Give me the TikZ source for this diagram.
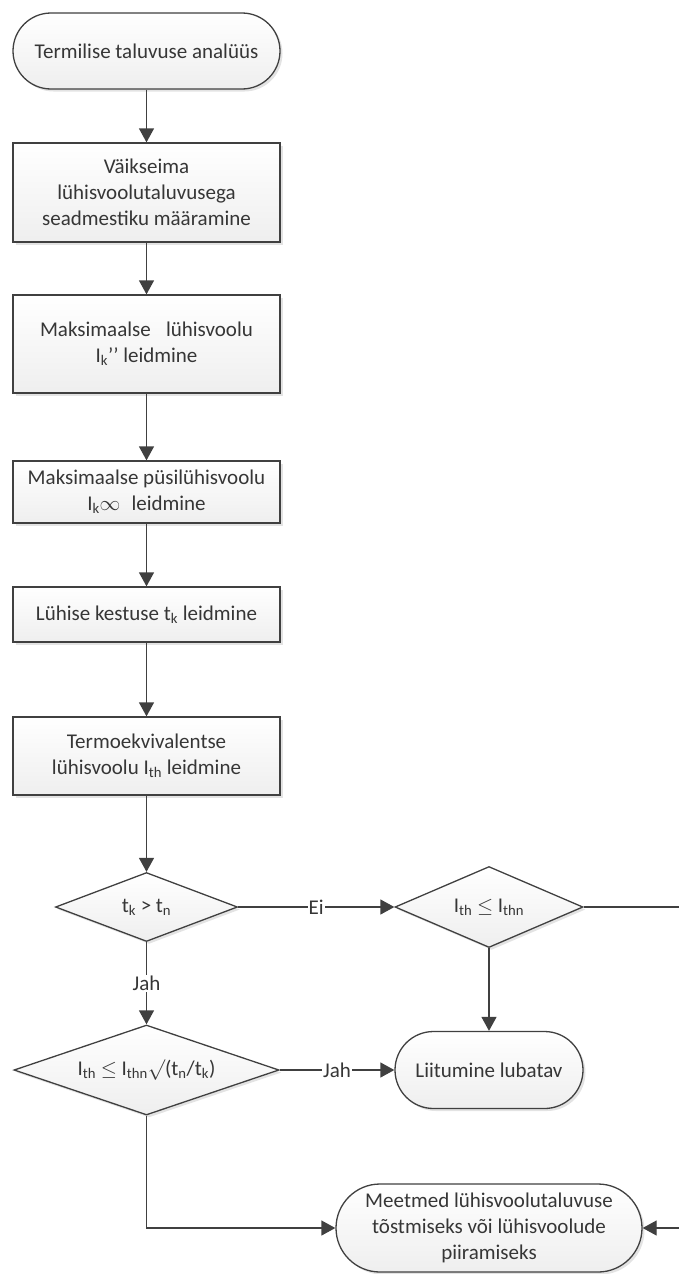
\documentclass[tikz,border=0pt]{standalone}
\usepackage{fontspec}
\setmainfont{Carlito}
\usetikzlibrary{shapes.geometric,shapes.misc,arrows.meta,shadows}
\definecolor{ink}{HTML}{404040}
\definecolor{txt}{HTML}{363636}
\begin{document}
\begin{tikzpicture}[x=1pt,y=-1pt,
  shape base/.style={draw=ink, line width=1.3pt,
    top color=white, bottom color=gray!13,
    drop shadow={shadow xshift=2.5pt, shadow yshift=-2.5pt, opacity=0.22, fill=gray},
    text=txt, font=\fontsize{21}{26}\selectfont, align=center, inner sep=0pt},
  procbox/.style={shape base, rectangle, minimum width=267pt},
  term/.style={shape base, rounded rectangle},
  decision/.style={shape base, diamond},
  arr/.style={draw=ink, line width=1.3pt, -{Triangle[length=14pt,width=15pt]}},
  lbl/.style={fill=white, text=txt, font=\fontsize{21}{26}\selectfont, inner sep=1pt}
]
\useasboundingbox (0,0) rectangle (678,1274);

% main column
\node[term, minimum width=267pt, minimum height=76pt] (start) at (146.5,51) {Termilise taluvuse analüüs};
\node[procbox, minimum height=99pt] (b1) at (146.5,192.5) {Väikseima\\lühisvoolutaluvusega\\seadmestiku määramine};
\node[procbox, minimum height=98pt] (b2) at (146.5,344) {Maksimaalse\hspace{0.5em} lühisvoolu\\I\textsubscript{k}’’ leidmine};
\node[procbox, minimum height=62pt] (b3) at (146.5,492) {Maksimaalse püsilühisvoolu\\I\textsubscript{k}$\infty$\hspace{0.3em} leidmine};
\node[procbox, minimum height=55pt] (b4) at (146.5,614.5) {Lühise kestuse t\textsubscript{k} leidmine};
\node[procbox, minimum height=78pt] (b5) at (146.5,756) {Termoekvivalentse\\lühisvoolu I\textsubscript{th} leidmine};

% decisions
\node[decision, shape aspect=2.6, minimum width=182pt, minimum height=69pt] (d1) at (146.5,907) {t\textsubscript{k} > t\textsubscript{n}};
\node[decision, shape aspect=2.3, minimum width=188pt, minimum height=81pt] (d2) at (489,907) {I\textsubscript{th} $\leq$ I\textsubscript{thn}};
\node[decision, shape aspect=2.9, minimum width=265pt, minimum height=90pt] (d3) at (146.5,1070) {I\textsubscript{th} $\leq$ I\textsubscript{thn}$\surd$(t\textsubscript{n}/t\textsubscript{k})};

% outcomes
\node[term, minimum width=188pt, minimum height=77pt] (ok) at (489,1070) {Liitumine lubatav};
\node[term, minimum width=306pt, minimum height=88pt] (fix) at (489,1228) {Meetmed lühisvoolutaluvuse\\tõstmiseks või lühisvoolude\\piiramiseks};

\coordinate (rim) at (684,907);

% connectors
\draw[arr] (start.south) -- (b1.north);
\draw[arr] (b1.south) -- (b2.north);
\draw[arr] (b2.south) -- (b3.north);
\draw[arr] (b3.south) -- (b4.north);
\draw[arr] (b4.south) -- (b5.north);
\draw[arr] (b5.south) -- (d1.north);
\draw[arr] (d1.east) -- node[lbl] {Ei} (d2.west);
\draw[arr] (d1.south) -- node[lbl] {Jah} (d3.north);
\draw[arr] (d2.south) -- (ok.north);
\draw[arr] (d3.east) -- node[lbl] {Jah} (ok.west);
\draw[arr] (d3.south) |- (fix.west);
\draw[arr] (d2.east) -- (rim) |- (fix.east);
\end{tikzpicture}
\end{document}
